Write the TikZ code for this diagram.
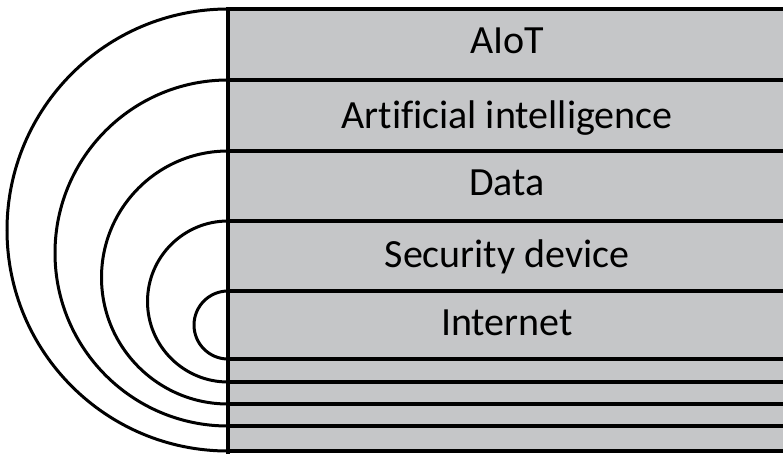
\documentclass[tikz,border=0pt]{standalone}
\usepackage{fontspec}
\setmainfont[Ligatures=NoCommon]{Carlito}
\definecolor{barfill}{HTML}{C5C6C8}
\begin{document}
\begin{tikzpicture}[x=1pt,y=-1pt,
  band/.style={line width=4.5pt},
  ring/.style={line width=3pt},
  lbl/.style={anchor=base, inner sep=0pt, font=\fontsize{40}{48}\selectfont}]
\useasboundingbox (0,0) rectangle (783,453);
\clip (0,0) rectangle (783,453);
\fill[barfill] (228,9) rectangle (800,451);
\foreach \yy in {9,80,151,221,291,359,382,404,426,451}
  \draw[band] (226,\yy) -- (800,\yy);
\draw[band] (228,7) -- (228,455);
% rings
\draw[ring] (228,9)   arc[start angle=270, end angle=90, radius=221];
\draw[ring] (228,80)  arc[start angle=270, end angle=90, radius=173];
\draw[ring] (228,151) arc[start angle=270, end angle=90, radius=126.5];
\draw[ring] (228,221) arc[start angle=270, end angle=90, radius=80.5];
\draw[ring] (228,291) arc[start angle=270, end angle=90, radius=34];
% labels
\node[lbl] (aiot) at (507,53)  {AIoT};
\node[lbl] (ai)   at (507,128) {Artificial intelligence};
\node[lbl] (data) at (507,195) {Data};
\node[lbl] (sec)  at (507,267) {Security device};
\node[lbl] (net)  at (507,335) {Internet};
\end{tikzpicture}
\end{document}
